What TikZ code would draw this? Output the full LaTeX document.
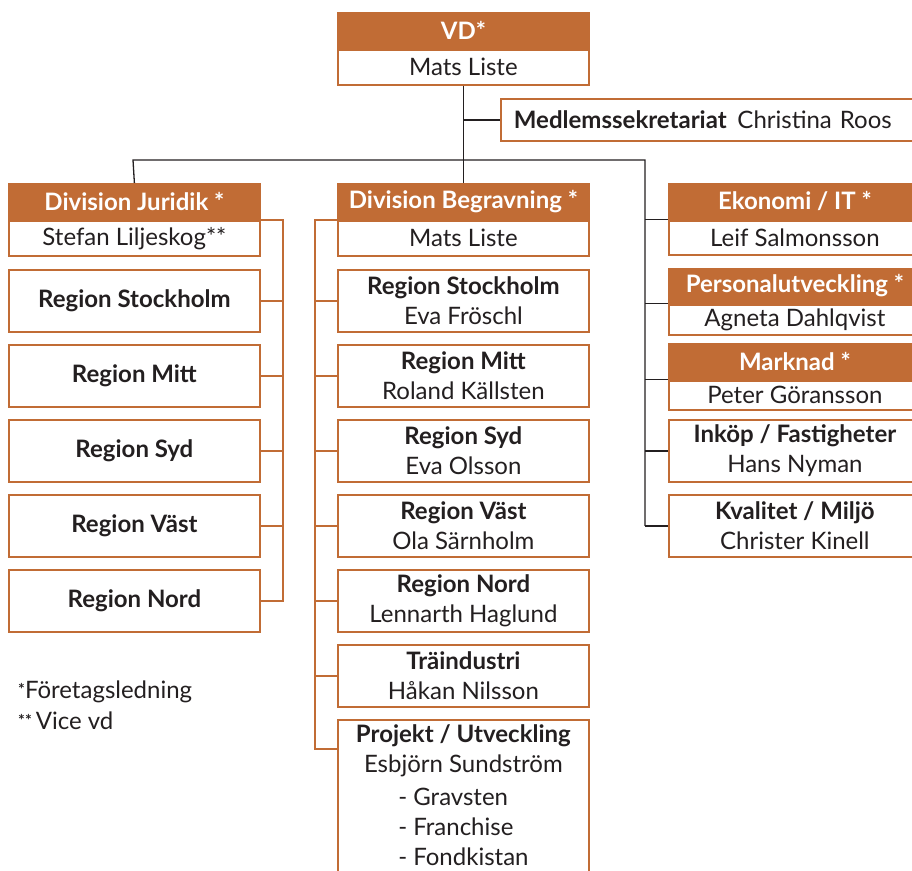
\documentclass[tikz,border=0pt]{standalone}
\usepackage{fontspec}
\setmainfont{Lato}
\usetikzlibrary{positioning}
\definecolor{brun}{RGB}{193,108,53}
\definecolor{svart}{RGB}{35,31,32}

\tikzset{
  x=1pt, y=-1pt,
  textstil/.style={font=\fontsize{24}{30}\selectfont},
  chef/.style={draw=brun, fill=brun, line width=1.8pt, text=white, font=\fontsize{24}{30}\selectfont\bfseries,
    minimum width=251pt, minimum height=35pt, inner sep=0pt},
  namn/.style={draw=brun, fill=white, line width=1.8pt, text=svart, textstil,
    minimum width=251pt, minimum height=35pt, inner sep=0pt},
  enhet/.style={draw=brun, fill=white, line width=1.8pt, text=svart, textstil, align=center,
    minimum width=251pt, minimum height=62pt, inner sep=0pt, anchor=north west},
  lien/.style={draw=svart, line width=1.3pt},
  lienb/.style={draw=brun, line width=1.6pt},
}

\begin{document}
\begin{tikzpicture}
\useasboundingbox (0,0) rectangle (912,870);
\clip (0,0) rectangle (912,870);
% VD
\node[chef, anchor=north west] (vd) at (337,12) {VD*};
\node[namn, below=0pt of vd] (vdnamn) {Mats Liste};
\node[enhet, minimum height=42pt, text width=400pt, align=left, inner xsep=13pt, anchor=north west] (sekr) at (500,98)
  {\textbf{Medlemssekretariat}\hspace{0.45em}Christina Roos};
% Divisioner
\node[chef, anchor=north west] (jur) at (8,183) {Division Juridik *};
\node[namn, below=0pt of jur] (jurnamn) {Stefan Liljeskog**};
\node[chef, anchor=north west] (begr) at (337,183) {Division Begravning *};
\node[namn, below=0pt of begr] (begrnamn) {Mats Liste};
% Stab
\node[chef, anchor=north west, minimum width=260pt] (ekon) at (668,183) {\hspace*{-8pt}Ekonomi / IT *};
\node[namn, below=0pt of ekon, minimum width=260pt, minimum height=34pt] (ekonnamn) {\hspace*{-8pt}Leif Salmonsson};
\node[chef, anchor=north west, minimum width=260pt, minimum height=34pt] (pers) at (668,268) {\hspace*{-8pt}Personalutveckling *};
\node[namn, below=0pt of pers, minimum width=260pt, minimum height=30pt] (persnamn) {\hspace*{-8pt}Agneta Dahlqvist};
\node[chef, anchor=north west, minimum width=260pt] (mark) at (668,343) {\hspace*{-8pt}Marknad *};
\node[namn, below=0pt of mark, minimum width=260pt, minimum height=29pt] (marknamn) {\hspace*{-8pt}Peter Göransson};
\node[enhet, minimum width=260pt] (ink) at (668,419) {\hspace*{-8pt}\textbf{Inköp / Fastigheter}\\\hspace*{-8pt}Hans Nyman};
\node[enhet, minimum width=260pt] (kval) at (668,494) {\hspace*{-8pt}\textbf{Kvalitet / Miljö}\\\hspace*{-8pt}Christer Kinell};
% Juridik regioner
\node[enhet] (js) at (8,269) {\textbf{Region Stockholm}};
\node[enhet] (jm) at (8,344) {\textbf{Region Mitt}};
\node[enhet] (jsy) at (8,419) {\textbf{Region Syd}};
\node[enhet] (jv) at (8,494) {\textbf{Region Väst}};
\node[enhet] (jn) at (8,569) {\textbf{Region Nord}};
% Begravning regioner
\node[enhet] (bs) at (337,269) {\textbf{Region Stockholm}\\Eva Fröschl};
\node[enhet] (bm) at (337,344) {\textbf{Region Mitt}\\Roland Källsten};
\node[enhet] (bsy) at (337,419) {\textbf{Region Syd}\\Eva Olsson};
\node[enhet] (bv) at (337,494) {\textbf{Region Väst}\\Ola Särnholm};
\node[enhet] (bn) at (337,569) {\textbf{Region Nord}\\Lennarth Haglund};
\node[enhet] (bt) at (337,644) {\textbf{Träindustri}\\Håkan Nilsson};
\node[enhet, minimum height=159pt] (bp) at (337,719) {\textbf{Projekt / Utveckling}\\Esbjörn Sundström\\[7pt]
  \begin{tabular}{@{}l@{}}- Gravsten\\- Franchise\\- Fondkistan\end{tabular}};
\coordinate (bptick) at (337,749);
% Förklaring
\node[textstil, text=svart, anchor=west, align=left, inner sep=0pt] (forkl) at (18,705)
  {{\fontsize{16}{16}\selectfont\bfseries\raisebox{3pt}{*}}Företagsledning\\[1pt]{\fontsize{16}{16}\selectfont\bfseries\raisebox{3pt}{**}}\,Vice vd};
% Linjer
\coordinate (hl) at (133,160);
\coordinate (hr) at (645,160);
\draw[lien] (vdnamn.south) -- (begr.north);
\draw[lien] (vdnamn.south |- sekr.west) -- (sekr.west);
\draw[lien] (jur.north) -- (hl) -- (hr) -- (hr |- kval.west);
\draw[lien] (hr |- ekon.south west) -- (ekon.south west);
\draw[lien] (hr |- persnamn.north west) -- (persnamn.north west);
\draw[lien] (hr |- mark.south west) -- (mark.south west);
\foreach \n in {ink, kval}
  \draw[lien] (hr |- \n.west) -- (\n.west);
% Juridik
\draw[lienb] (jur.south east) -- ++(22,0) coordinate (jl) -- (jl |- jn.east) -- (jn.east);
\foreach \n in {js, jm, jsy, jv}
  \draw[lienb] (jl |- \n.east) -- (\n.east);
% Begravning
\draw[lienb] (begr.south west) -- ++(-22,0) coordinate (bl) -- (bl |- bptick) -- (bptick);
\foreach \n in {bs, bm, bsy, bv, bn, bt}
  \draw[lienb] (bl |- \n.west) -- (\n.west);
\end{tikzpicture}
\end{document}
